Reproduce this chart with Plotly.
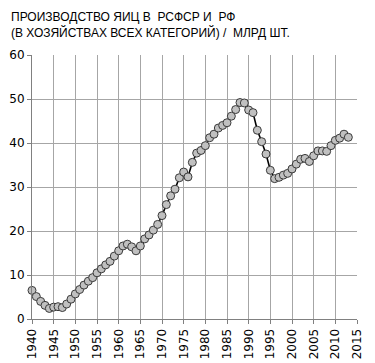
import plotly.graph_objects as go

years = list(range(1940, 2014))
eggs = [
    6.5, 5.1, 4.0, 3.1, 2.4, 2.7, 2.8, 2.6, 3.4, 4.5,   # 1940-1949
    5.7, 6.7, 7.7, 8.6, 9.4, 10.5, 11.4, 12.3, 13.1, 14.3,  # 1950-1959
    15.5, 16.6, 17.0, 16.4, 15.5, 16.6, 18.2, 19.1, 20.2, 21.5,  # 1960-1969
    23.5, 26.0, 28.0, 29.5, 32.1, 33.4, 32.3, 35.6, 37.7, 38.3,  # 1970-1979
    39.4, 41.2, 42.0, 43.4, 44.0, 44.6, 46.1, 47.6, 49.2, 49.1,  # 1980-1989
    47.5, 46.9, 42.9, 40.3, 37.5, 33.8, 31.9, 32.2, 32.7, 33.1,  # 1990-1999
    34.1, 35.2, 36.3, 36.5, 35.8, 37.1, 38.2, 38.2, 38.1, 39.4,  # 2000-2009
    40.6, 41.1, 42.0, 41.3,  # 2010-2013
]
x_ticks = list(range(1940, 2016, 5))
y_ticks = list(range(0, 61, 10))
title_lines = ["ПРОИЗВОДСТВО ЯИЦ В  РСФСР И  РФ",
               "(В ХОЗЯЙСТВАХ ВСЕХ КАТЕГОРИЙ) /  МЛРД ШТ."]

fig = go.Figure()
fig.add_trace(go.Scatter(
    x=years, y=eggs, mode="lines+markers",
    line=dict(color="#000000", width=1.6),
    marker=dict(size=8, color="#c0c0c0", line=dict(color="#3a3a3a", width=1)),
    cliponaxis=False, showlegend=False,
))

for i, t in enumerate(title_lines):
    fig.add_annotation(
        text=t, xref="paper", yref="paper", x=0, y=1.0,
        xanchor="left", yanchor="bottom", showarrow=False,
        xshift=-23, yshift=29 - i * 16,
        font=dict(family="Liberation Sans, Arial, sans-serif", size=12, color="#000000"),
    )

fig.update_xaxes(
    range=[1940, 2015], tickvals=x_ticks, ticktext=[str(v) for v in x_ticks],
    tickangle=-90, showgrid=True, gridcolor="#a6a6a6", gridwidth=1,
    showline=True, linecolor="#808080", linewidth=1,
    ticks="outside", ticklen=4, tickcolor="#808080",
    tickfont=dict(family="DejaVu Sans, sans-serif", size=12, color="#000000"),
    zeroline=False, fixedrange=True, automargin=False,
)
fig.update_yaxes(
    range=[0, 60], tickvals=y_ticks, showgrid=True, gridcolor="#a6a6a6", gridwidth=1,
    showline=True, linecolor="#808080", linewidth=1,
    ticks="outside", ticklen=4, tickcolor="#808080",
    tickfont=dict(family="DejaVu Sans, sans-serif", size=12, color="#000000"),
    zeroline=False, fixedrange=True, automargin=False,
)
fig.update_layout(
    width=367, height=355,
    margin=dict(l=24, r=18, t=47, b=44),
    paper_bgcolor="#ffffff", plot_bgcolor="#ffffff",
)
fig.write_html("out.html")
